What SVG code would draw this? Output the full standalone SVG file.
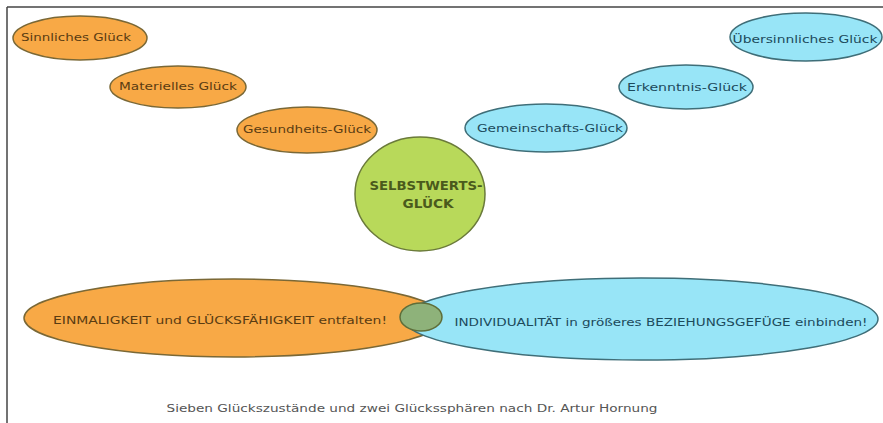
<svg xmlns="http://www.w3.org/2000/svg" width="883" height="423" viewBox="0 0 883 423">
<style>
text{font-family:"DejaVu Sans","Liberation Sans",sans-serif;text-anchor:middle;lengthAdjust:spacingAndGlyphs}
.o ellipse{fill:#F8A946;stroke:#7A6836;stroke-width:1.5}
.b ellipse{fill:#98E5F7;stroke:#3F6E78;stroke-width:1.5}
.o text{fill:#5A3C12;font-size:11px}
.b text{fill:#1C4A5C;font-size:11px}
.g ellipse{fill:#B8D95A;stroke:#6A7A3A;stroke-width:1.5}
.g text{fill:#4A5A1C;font-size:12px;font-weight:bold}
.cap{fill:#555;font-size:11px}
</style>
<rect width="883" height="423" fill="#fff"/>
<g id="frame" stroke="#444" stroke-width="1.5" fill="none">
<line x1="7" y1="7" x2="883" y2="7"/>
<line x1="7" y1="7" x2="7" y2="423"/>
</g>
<g id="connectors"/>
<g id="sinnliches" class="o"><ellipse cx="80" cy="38" rx="67" ry="22"/><text x="76" y="41" textLength="110" lengthAdjust="spacingAndGlyphs">Sinnliches Glück</text></g>
<g id="materielles" class="o"><ellipse cx="178" cy="87" rx="68" ry="21"/><text x="178" y="90" textLength="118" lengthAdjust="spacingAndGlyphs">Materielles Glück</text></g>
<g id="gesundheits" class="o"><ellipse cx="307" cy="130" rx="70" ry="23"/><text x="307" y="133" textLength="128" lengthAdjust="spacingAndGlyphs">Gesundheits-Glück</text></g>
<g id="gemeinschafts" class="b"><ellipse cx="546" cy="128" rx="81" ry="24"/><text x="550" y="132" textLength="146" lengthAdjust="spacingAndGlyphs">Gemeinschafts-Glück</text></g>
<g id="erkenntnis" class="b"><ellipse cx="686" cy="87" rx="67" ry="22"/><text x="687" y="91" textLength="120" lengthAdjust="spacingAndGlyphs">Erkenntnis-Glück</text></g>
<g id="uebersinnliches" class="b"><ellipse cx="806" cy="37" rx="76" ry="24"/><text x="805" y="43" textLength="145" lengthAdjust="spacingAndGlyphs">Übersinnliches Glück</text></g>
<g id="selbstwert" class="g"><ellipse cx="420" cy="194" rx="65" ry="57"/><text x="426" y="190" textLength="113" lengthAdjust="spacingAndGlyphs">SELBSTWERTS-</text><text x="428" y="208" textLength="51" lengthAdjust="spacingAndGlyphs">GLÜCK</text></g>
<g id="einmaligkeit" class="o"><ellipse cx="234" cy="318" rx="210" ry="39"/></g>
<g id="individualitaet" class="b"><ellipse cx="641" cy="319" rx="237" ry="41"/></g>
<g id="overlap"><ellipse cx="421" cy="317" rx="21" ry="14" fill="#8EB27A" stroke="#5E6E3A" stroke-width="1.5"/></g>
<g class="o"><text x="220" y="324" textLength="334" lengthAdjust="spacingAndGlyphs">EINMALIGKEIT und GLÜCKSFÄHIGKEIT entfalten!</text></g>
<g class="b"><text x="661" y="326" textLength="413" lengthAdjust="spacingAndGlyphs">INDIVIDUALITÄT in größeres BEZIEHUNGSGEFÜGE einbinden!</text></g>
<text class="cap" x="412" y="412" textLength="491" lengthAdjust="spacingAndGlyphs">Sieben Glückszustände und zwei Glückssphären nach Dr. Artur Hornung</text>
</svg>
